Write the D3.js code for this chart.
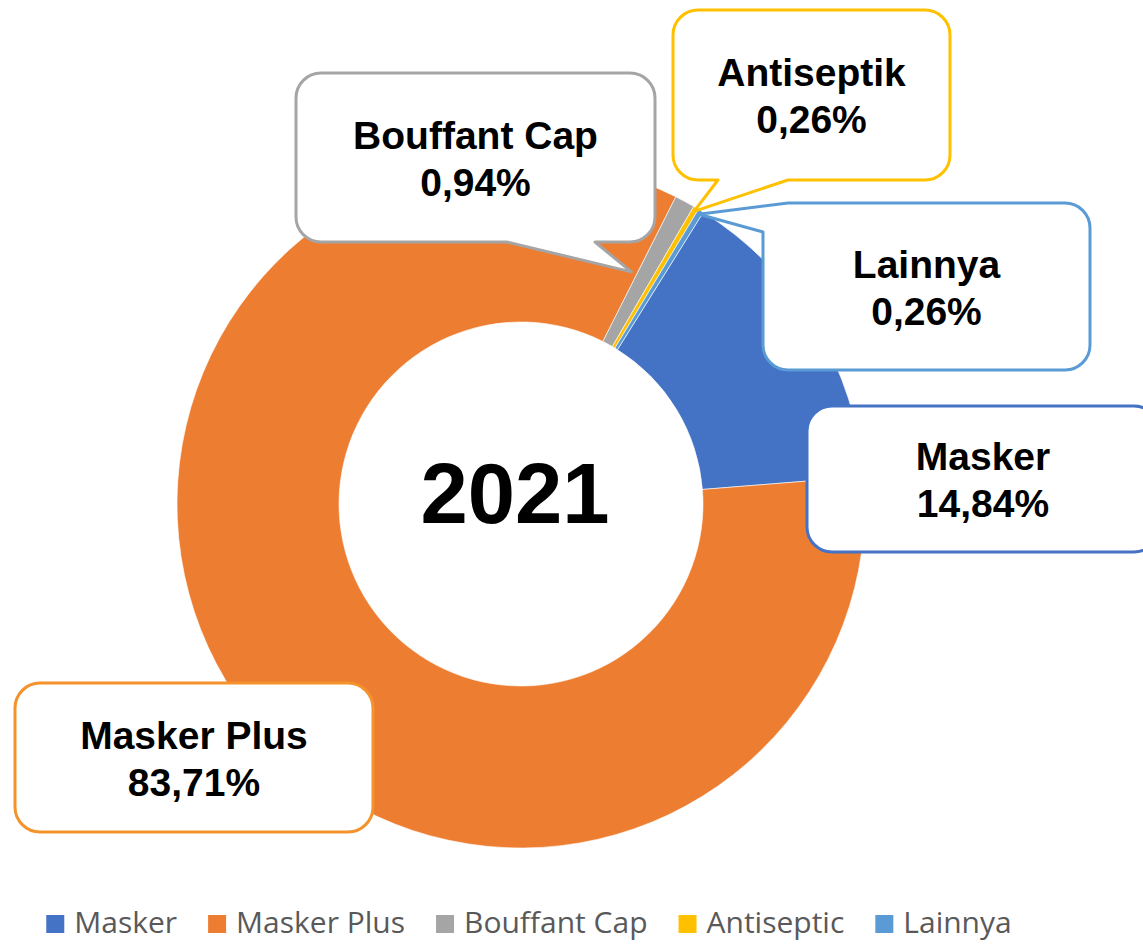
<!DOCTYPE html>
<html>
<head>
<meta charset="utf-8">
<script src="https://cdn.jsdelivr.net/npm/d3@7"></script>
<style>
  body { margin: 0; background: #fff; }
  svg { display: block; }
</style>
</head>
<body>
<div class="container"></div>
<script>
const wd = 1143
const ht = 944

// data
const categories = ["Masker", "Masker Plus", "Bouffant Cap", "Antiseptik", "Lainnya"]
const legendLabels = ["Masker", "Masker Plus", "Bouffant Cap", "Antiseptic", "Lainnya"]
const values = [14.84, 83.71, 0.94, 0.26, 0.26]
const colors = ["#4472C4", "#ED7D31", "#A5A5A5", "#FFC000", "#5B9BD5"]
const borderColors = ["#4472C4", "#F4922B", "#A5A5A5", "#FFC000", "#5B9BD5"]
const centerTitle = "2021"

// callout boxes (layout only)
const boxes = [
  {x: 807, y: 406, w: 352, h: 146, pointer: null},
  {x: 15, y: 683, w: 358, h: 149, pointer: null},
  {x: 296, y: 73, w: 359, h: 169, pointer: {edge: "bottom", p1: 507, p2: 595, tipR: 257, nudge: -3}},
  {x: 673, y: 10, w: 277, h: 170, pointer: {edge: "bottom", p1: 718, p2: 788, tipR: 340, nudge: 0}},
  {x: 763, y: 203, w: 327, h: 167, pointer: {edge: "corner", p2: 232, tipR: 340, nudge: 0}}
]

const cx = 521, cy = 504
const outerR = 344, innerR = 182

const svgC = d3.select(".container")
  .append("svg")
  .attr("width", wd)
  .attr("height", ht)

const pct = d3.formatLocale({decimal: ",", thousands: ".", grouping: [3], currency: ["", ""]}).format(".2f")

const pie = d3.pie()
  .sort(null)
  .value(d => d)
  .startAngle(32 * Math.PI / 180)
  .endAngle((32 + 360) * Math.PI / 180)

const arcs = pie(values)

const arcGen = d3.arc()
  .innerRadius(innerR)
  .outerRadius(outerR)

const donut = svgC.append("g")
  .attr("transform", `translate(${cx},${cy})`)

donut.selectAll("path")
  .data(arcs)
  .join("path")
  .attr("d", arcGen)
  .attr("fill", (d, i) => colors[i])
  .attr("stroke", "#fff")
  .attr("stroke-width", 0.6)

donut.append("text")
  .attr("x", -6)
  .attr("y", 19)
  .attr("text-anchor", "middle")
  .style("font-family", "'Liberation Sans', Arial, sans-serif")
  .style("font-weight", "bold")
  .style("font-size", "85px")
  .attr("fill", "#000")
  .text(centerTitle)

// callout shape: rounded box with an optional wedge pointer
function calloutPath(b, tip) {
  const r = 25
  const {x, y, w, h} = b
  const p = b.pointer
  let s = `M${x + r},${y} H${x + w - r} A${r},${r} 0 0 1 ${x + w},${y + r} V${y + h - r} A${r},${r} 0 0 1 ${x + w - r},${y + h}`
  if (p && p.edge === "bottom") {
    s += ` H${p.p2} L${tip[0]},${tip[1]} L${p.p1},${y + h}`
  }
  s += ` H${x + r} A${r},${r} 0 0 1 ${x},${y + h - r}`
  if (p && p.edge === "corner") {
    s += ` V${p.p2} L${tip[0]},${tip[1]} Z`
  } else {
    s += ` V${y + r} A${r},${r} 0 0 1 ${x + r},${y} Z`
  }
  return s
}

const labels = svgC.append("g")

arcs.forEach((a, i) => {
  const b = boxes[i]
  let tip = null
  if (b.pointer) {
    const ang = (a.startAngle + a.endAngle) / 2 + b.pointer.nudge * Math.PI / 180
    tip = [cx + b.pointer.tipR * Math.sin(ang), cy - b.pointer.tipR * Math.cos(ang)]
  }
  labels.append("path")
    .attr("d", calloutPath(b, tip))
    .attr("fill", "#fff")
    .attr("stroke", borderColors[i])
    .attr("stroke-width", 3)
    .attr("stroke-linejoin", "round")

  const tx = b.x + b.w / 2
  const ty = b.y + b.h / 2
  const t = labels.append("text")
    .attr("text-anchor", "middle")
    .style("font-family", "'Liberation Sans', Arial, sans-serif")
    .style("font-weight", "bold")
    .style("font-size", "39px")
    .attr("fill", "#000")
  t.append("tspan").attr("x", tx).attr("y", ty - 9).text(categories[i])
  t.append("tspan").attr("x", tx).attr("y", ty + 38).text(pct(a.data) + "%")
})

// legend
const legend = svgC.append("g")
let lx = 0
const items = legend.selectAll("g")
  .data(legendLabels)
  .join("g")

items.append("rect")
  .attr("width", 18)
  .attr("height", 18)
  .attr("y", -18)
  .attr("fill", (d, i) => colors[i])

items.append("text")
  .attr("x", 28)
  .attr("y", 0)
  .style("font-family", "'Open Sans', sans-serif")
  .style("font-size", "30px")
  .attr("fill", "#595959")
  .text(d => d)

items.each(function() {
  const g = d3.select(this)
  g.attr("transform", `translate(${lx},0)`)
  lx += 28 + g.select("text").node().getComputedTextLength() + 31
})
const legW = lx - 31
legend.attr("transform", `translate(${529 - legW / 2},933)`)
</script>
</body>
</html>
